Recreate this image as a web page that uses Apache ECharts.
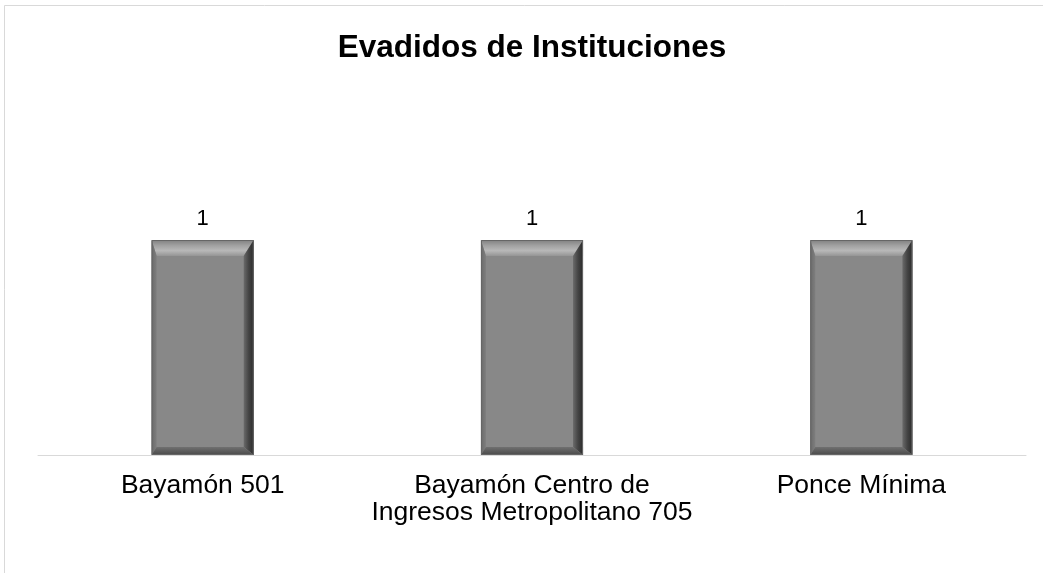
<!DOCTYPE html>
<html>
<head>
<meta charset="utf-8">
<script src="https://cdn.jsdelivr.net/npm/echarts@6/dist/echarts.min.js"></script>
<style>
  html, body { margin: 0; padding: 0; background: #fff; }
  #chart { width: 1043px; height: 573px; }
</style>
</head>
<body>
<div id="chart"></div>
<script>
// ---- data ----
const titleText = 'Evadidos de Instituciones';
const categories = ['Bayamón 501', 'Bayamón Centro de\nIngresos Metropolitano 705', 'Ponce Mínima'];
const values = [1, 1, 1];

// ---- bevelled bar ----
function renderBevelBar(params, api) {
  const idx = api.value(0);
  const top = api.coord([idx, api.value(1)]);
  const base = api.coord([idx, 0]);
  const w = api.size([1, 0])[0] * 0.31;
  const l = top[0] - w / 2, r = top[0] + w / 2;
  const t = top[1], b = base[1];
  const tb = 16, rb = 10, lb = 5, bb = 8;
  const lin = (x1, y1, x2, y2, stops) => ({
    type: 'linear', x: x1, y: y1, x2: x2, y2: y2,
    colorStops: stops.map((c, i) => ({ offset: i / (stops.length - 1), color: c }))
  });
  return {
    type: 'group',
    children: [
      { type: 'rect', shape: { x: l, y: t, width: w, height: b - t }, style: { fill: '#888888' } },
      // top bevel
      { type: 'polygon', shape: { points: [[l, t], [r, t], [r - rb, t + tb], [l + lb, t + tb]] },
        style: { fill: lin(0, 0, 0, 1, ['#808080', '#a0a0a0', '#b8b8b8', '#959595']) } },
      // left bevel
      { type: 'polygon', shape: { points: [[l, t], [l + lb, t + tb], [l + lb, b - bb], [l, b]] },
        style: { fill: lin(0, 0, 1, 0, ['#6a6a6a', '#7e7e7e']) } },
      // right bevel
      { type: 'polygon', shape: { points: [[r, t], [r, b], [r - rb, b - bb], [r - rb, t + tb]] },
        style: { fill: lin(0, 0, 1, 0, ['#6a6a6a', '#444444', '#2a2a2a']) } },
      // bottom bevel
      { type: 'polygon', shape: { points: [[l, b], [r, b], [r - rb, b - bb], [l + lb, b - bb]] },
        style: { fill: lin(0, 0, 0, 1, ['#707070', '#4a4a4a']) } },
      { type: 'rect', shape: { x: l + 0.5, y: t + 0.5, width: w - 1, height: b - t - 1 },
        style: { fill: 'none', stroke: '#666666', lineWidth: 1 } },
      // value label
      { type: 'text', style: { x: top[0], y: t - 10, text: String(api.value(1)),
        fill: '#000', font: '22px "Liberation Sans", Arial, sans-serif',
        align: 'center', verticalAlign: 'bottom' } }
    ]
  };
}

const chart = echarts.init(document.getElementById('chart'));
chart.setOption({
  backgroundColor: '#ffffff',
  animation: false,
  graphic: [{
    type: 'rect', z: -10,
    shape: { x: 4.5, y: 5.5, width: 1200, height: 700 },
    style: { fill: 'none', stroke: '#d9d9d9', lineWidth: 1 }
  }],
  title: {
    text: titleText,
    left: 527, top: 27, textAlign: 'center',
    textStyle: { fontFamily: '"Liberation Sans", Arial, sans-serif', fontSize: 31.5, fontWeight: 'bold', color: '#000' }
  },
  grid: { left: 38, right: 17, top: 197, bottom: 118 },
  xAxis: {
    type: 'category',
    data: categories,
    axisLine: { lineStyle: { color: '#d9d9d9', width: 1 } },
    axisTick: { show: false },
    axisLabel: {
      interval: 0, margin: 17,
      fontFamily: '"Liberation Sans", Arial, sans-serif',
      fontSize: 26.5, lineHeight: 27, color: '#000'
    }
  },
  yAxis: { type: 'value', min: 0, max: 1.2, show: false },
  series: [{
    type: 'custom',
    renderItem: renderBevelBar,
    encode: { x: 0, y: 1 },
    data: values.map((v, i) => [i, v])
  }]
});
</script>
</body>
</html>
